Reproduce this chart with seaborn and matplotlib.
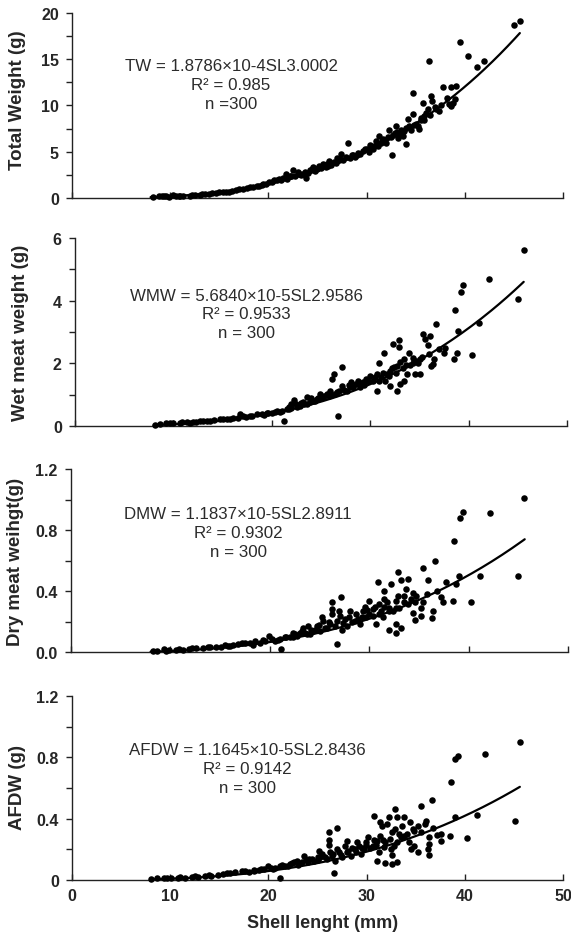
import matplotlib
matplotlib.use("Agg")
import matplotlib.pyplot as plt
import numpy as np
import pandas as pd
import seaborn as sns
from matplotlib.ticker import MultipleLocator, FixedLocator, FixedFormatter

# (shell length mm, weight g)
tw_points = [
    (45.6, 19.1), (45.0, 18.7), (39.5, 16.9), (40.3, 15.4), (36.35, 14.8), (41.2, 14.2),
    (42.0, 14.8), (37.8, 12.0), (38.6, 12.0), (39.1, 12.1), (34.7, 11.35), (36.55, 11.0),
    (36.7, 10.5), (35.7, 10.3), (38.8, 10.3), (38.6, 9.9), (39.0, 10.7), (37.1, 9.6),
    (37.4, 9.4), (36.2, 9.6), (35.85, 8.9), (34.7, 9.1), (34.2, 8.5), (34.35, 7.8),
    (35.5, 8.4), (35.2, 7.8), (35.3, 7.5), (33.0, 7.8), (32.3, 7.3), (32.7, 6.8),
    (33.4, 6.9), (33.7, 6.7), (34.0, 5.8), (32.6, 4.7), (31.3, 6.7), (31.65, 6.4),
    (32.0, 6.0), (31.0, 6.2), (30.3, 5.7), (30.65, 5.3), (30.0, 5.3), (29.6, 5.1),
    (29.1, 4.9), (28.1, 5.9), (28.6, 4.6), (27.9, 4.4), (27.4, 4.75), (27.25, 4.2),
    (26.7, 3.9), (26.2, 4.0), (25.55, 3.7), (25.2, 3.5), (24.9, 3.1), (24.5, 3.3),
    (24.2, 3.0), (23.85, 2.2), (23.5, 2.6), (23.0, 2.8), (22.5, 3.0), (22.15, 2.4),
    (21.8, 2.6), (21.5, 2.2), (21.1, 2.05), (20.6, 1.9), (20.1, 1.7), (19.45, 1.5),
    (18.8, 1.3), (18.1, 1.15), (17.4, 1.0), (16.7, 0.85), (16.0, 0.7), (15.4, 0.6),
    (14.7, 0.55), (14.0, 0.45), (13.0, 0.35), (12.0, 0.25), (11.3, 0.25), (10.6, 0.2),
    (9.6, 0.18), (8.9, 0.18), (8.2, 0.15),
    (19.0, 1.35), (19.8, 1.55), (20.4, 1.75), (21.3, 1.9), (21.9, 2.1), (22.7, 2.35),
    (23.3, 2.5), (24.0, 2.75), (24.7, 2.95), (25.4, 3.2), (25.9, 3.35), (26.4, 3.6),
    (26.9, 3.75), (27.6, 4.1), (28.3, 4.35), (28.8, 4.4), (29.3, 4.8), (29.8, 5.3),
    (30.2, 5.0), (30.8, 5.6), (31.5, 6.0), (31.8, 6.3), (32.5, 6.6), (33.2, 6.5),
    (33.8, 7.2), (34.5, 7.4), (35.0, 8.0), (17.8, 1.1), (16.3, 0.8), (15.0, 0.6),
    (13.5, 0.4), (12.5, 0.3), (11.0, 0.22), (9.9, 0.15), (10.3, 0.3), (9.2, 0.25),
    (23.2, 2.6), (24.4, 3.1), (26.0, 3.7), (27.0, 4.3), (33.5, 7.3), (34.8, 7.9),
    (31.2, 5.6), (32.9, 7.0), (35.8, 8.4), (36.0, 9.2), (37.0, 9.8), (38.2, 10.8),
    (28.5, 4.6), (29.0, 4.6), (30.5, 5.4), (31.6, 6.2), (32.2, 6.6), (33.1, 7.1),
    (34.0, 7.6), (35.5, 8.6), (36.5, 9.0), (37.6, 10.1), (38.4, 10.2), (26.1, 3.5),
    (25.0, 3.2), (23.7, 2.8), (22.3, 2.4), (20.9, 2.0), (19.3, 1.4), (18.4, 1.2),
    (17.0, 0.95), (15.7, 0.7), (14.3, 0.5), (13.2, 0.4), (12.2, 0.3), (10.9, 0.25),
    (9.4, 0.2),
]

wmw_points = [
    (45.6, 5.63), (42.1, 4.68), (39.4, 4.5), (39.2, 4.28), (45.0, 4.05), (38.6, 3.69),
    (41.1, 3.3), (38.9, 3.03), (36.7, 3.25), (35.4, 2.93), (35.6, 2.79), (36.1, 2.86),
    (35.9, 2.58), (32.3, 2.63), (32.9, 2.74), (32.9, 2.53), (31.4, 2.33), (30.85, 2.0),
    (37.6, 2.5), (37.5, 2.33), (38.8, 2.33), (38.5, 2.14), (40.3, 2.27), (36.5, 2.14),
    (36.35, 1.97), (36.2, 1.9), (33.9, 2.33), (34.4, 2.18), (34.7, 2.08), (35.1, 2.13),
    (33.4, 2.13), (33.05, 2.03), (32.7, 1.92), (32.4, 1.87), (32.0, 1.76), (31.7, 1.65),
    (31.5, 1.44), (32.0, 1.28), (32.7, 1.12), (33.05, 1.33), (33.4, 1.44), (34.6, 1.65),
    (35.1, 1.65), (33.7, 1.65), (30.7, 1.65), (30.85, 1.44), (30.7, 1.12), (30.0, 1.6),
    (29.8, 1.44), (29.3, 1.39), (29.0, 1.23), (28.6, 1.33), (28.1, 1.39), (27.97, 1.23),
    (27.6, 1.12), (27.1, 1.87), (26.3, 1.65), (26.1, 1.49), (27.1, 1.28), (26.8, 1.12),
    (26.4, 1.01), (25.9, 1.12), (25.6, 1.01), (25.25, 0.91), (24.9, 1.01), (24.6, 0.85),
    (24.2, 0.8), (23.9, 0.75), (23.6, 0.91), (23.6, 0.69), (23.2, 0.75), (22.9, 0.64),
    (22.5, 0.69), (22.3, 0.83), (22.0, 0.59), (21.5, 0.53), (21.0, 0.48), (21.2, 0.16),
    (20.5, 0.48), (20.0, 0.43), (19.5, 0.43), (19.0, 0.37), (18.5, 0.37), (17.8, 0.32),
    (17.1, 0.32), (16.6, 0.27), (16.8, 0.37), (16.1, 0.25), (15.4, 0.21), (14.7, 0.21),
    (14.1, 0.18), (13.4, 0.16), (12.7, 0.16), (12.0, 0.13), (11.4, 0.13), (10.7, 0.11),
    (10.0, 0.09), (9.3, 0.11), (8.6, 0.05), (8.1, 0.03), (26.7, 0.32),
    (18.0, 0.33), (19.2, 0.36), (20.8, 0.45), (21.7, 0.55), (22.6, 0.6), (23.3, 0.7),
    (24.4, 0.8), (25.0, 0.9), (25.8, 0.95), (26.6, 1.1), (27.3, 1.15), (28.3, 1.25),
    (29.0, 1.35), (29.6, 1.5), (30.3, 1.45), (31.1, 1.55), (31.9, 1.6), (32.6, 1.7),
    (33.3, 1.85), (34.0, 1.95), (34.9, 2.0), (27.8, 1.3), (24.0, 0.88), (22.0, 0.7),
    (15.8, 0.23), (13.0, 0.15), (11.7, 0.1),
    (28.8, 1.45), (29.4, 1.3), (30.5, 1.55), (31.3, 1.7), (32.2, 1.85), (33.6, 1.95),
    (34.3, 2.0), (35.3, 2.2), (36.0, 2.3), (37.0, 2.45), (26.0, 1.0), (25.3, 0.95),
    (24.7, 0.9), (23.0, 0.73), (21.8, 0.6), (20.3, 0.45), (19.6, 0.4), (17.4, 0.3),
    (15.0, 0.22), (13.7, 0.17), (12.3, 0.14), (10.9, 0.12), (9.7, 0.09),
]

dmw_points = [
    (45.5, 1.013), (42.1, 0.91), (39.4, 0.92), (39.1, 0.88), (38.5, 0.73), (44.9, 0.50),
    (36.6, 0.595), (35.4, 0.555), (32.9, 0.527), (30.9, 0.46), (32.2, 0.45), (33.2, 0.475),
    (33.9, 0.48), (35.9, 0.473), (37.7, 0.46), (38.7, 0.447), (39.0, 0.50), (41.1, 0.50),
    (40.2, 0.33), (38.4, 0.338), (37.4, 0.327), (37.2, 0.36), (36.4, 0.27), (36.3, 0.224),
    (35.4, 0.327), (35.2, 0.294), (35.2, 0.24), (34.6, 0.21), (34.4, 0.26), (34.7, 0.37),
    (34.4, 0.39), (33.7, 0.414), (33.5, 0.37), (32.9, 0.37), (32.7, 0.338), (32.7, 0.294),
    (32.4, 0.27), (32.0, 0.294), (31.5, 0.40), (31.5, 0.35), (31.0, 0.316), (31.0, 0.25),
    (31.4, 0.23), (32.7, 0.185), (33.2, 0.163), (32.0, 0.146), (32.7, 0.13), (30.4, 0.283),
    (30.0, 0.338), (30.0, 0.25), (30.7, 0.185), (29.3, 0.27), (29.2, 0.23), (29.0, 0.185),
    (28.5, 0.207), (28.0, 0.27), (27.9, 0.23), (27.7, 0.174), (27.1, 0.36), (26.2, 0.327),
    (26.2, 0.283), (26.2, 0.25), (26.7, 0.207), (27.2, 0.15), (26.0, 0.185), (25.7, 0.163),
    (25.3, 0.207), (25.2, 0.23), (25.0, 0.14), (24.7, 0.174), (24.3, 0.14), (23.8, 0.17),
    (23.3, 0.163), (23.7, 0.12), (23.0, 0.13), (22.7, 0.11), (22.3, 0.13), (22.0, 0.098),
    (21.5, 0.098), (21.1, 0.022), (21.0, 0.087), (20.5, 0.076), (19.9, 0.105), (19.5, 0.076),
    (19.0, 0.065), (18.5, 0.072), (18.0, 0.059), (17.5, 0.065), (16.8, 0.054), (16.3, 0.05),
    (15.8, 0.044), (15.1, 0.037), (14.6, 0.033), (14.0, 0.033), (13.3, 0.026), (12.6, 0.026),
    (11.9, 0.022), (11.3, 0.017), (10.6, 0.015), (9.9, 0.015), (9.3, 0.022), (8.6, 0.011),
    (8.2, 0.007), (26.7, 0.054),
    (23.5, 0.13), (24.5, 0.15), (25.5, 0.16), (26.5, 0.17), (27.3, 0.19), (28.2, 0.2),
    (28.8, 0.22), (29.6, 0.23), (30.4, 0.24), (31.2, 0.27), (32.0, 0.27), (33.0, 0.29),
    (33.9, 0.32), (34.6, 0.33), (20.8, 0.08), (22.3, 0.1), (18.3, 0.05), (16.0, 0.04),
    (24.0, 0.12), (27.0, 0.24), (29.5, 0.3), (31.5, 0.3),
    (28.6, 0.25), (29.8, 0.28), (30.6, 0.3), (31.8, 0.33), (33.5, 0.33), (34.2, 0.35),
    (35.8, 0.38), (36.8, 0.4), (27.5, 0.22), (26.9, 0.27), (25.9, 0.2), (24.9, 0.18),
    (24.1, 0.15), (23.2, 0.14), (22.5, 0.12), (21.6, 0.1), (20.2, 0.09), (19.3, 0.08),
    (17.2, 0.06), (15.5, 0.05), (13.8, 0.035), (12.2, 0.03), (10.9, 0.02), (9.5, 0.01),
]

afdw_points = [
    (45.6, 0.90), (42.1, 0.82), (39.3, 0.81), (39.0, 0.79), (38.6, 0.64), (45.1, 0.387),
    (36.7, 0.52), (35.5, 0.485), (32.9, 0.463), (30.75, 0.42), (27.0, 0.34), (26.2, 0.31),
    (26.2, 0.263), (26.2, 0.228), (28.0, 0.252), (26.65, 0.046), (21.2, 0.015), (41.2, 0.426),
    (40.2, 0.276), (39.0, 0.413), (38.5, 0.287), (37.6, 0.30), (37.6, 0.256), (37.2, 0.296),
    (36.4, 0.278), (36.4, 0.235), (36.2, 0.202), (36.4, 0.163), (35.9, 0.365), (36.0, 0.387),
    (35.2, 0.35), (34.7, 0.333), (33.8, 0.41), (33.1, 0.41), (32.3, 0.41), (32.1, 0.365),
    (31.4, 0.376), (31.6, 0.354), (32.6, 0.31), (33.8, 0.29), (34.3, 0.245), (34.8, 0.224),
    (35.2, 0.18), (34.5, 0.202), (33.5, 0.278), (33.1, 0.245), (32.8, 0.224), (32.5, 0.202),
    (32.6, 0.165), (33.1, 0.12), (32.6, 0.104), (31.9, 0.11), (31.1, 0.126), (31.9, 0.245),
    (31.8, 0.213), (31.3, 0.18), (31.1, 0.256), (30.6, 0.224), (30.1, 0.278), (29.9, 0.245),
    (29.7, 0.202), (29.2, 0.224), (29.4, 0.17), (28.9, 0.18), (28.4, 0.159), (28.0, 0.18),
    (27.5, 0.148), (27.2, 0.18), (26.8, 0.126), (26.5, 0.159), (26.0, 0.137), (25.5, 0.17),
    (25.1, 0.19), (25.0, 0.148), (24.6, 0.126), (24.1, 0.137), (23.6, 0.159), (23.4, 0.115),
    (22.9, 0.126), (22.6, 0.115), (22.2, 0.104), (21.7, 0.093), (21.2, 0.089), (20.7, 0.078),
    (20.0, 0.093), (19.5, 0.072), (19.0, 0.065), (18.5, 0.065), (18.0, 0.054), (17.3, 0.061),
    (16.6, 0.05), (16.1, 0.046), (15.4, 0.039), (14.9, 0.033), (14.2, 0.028), (13.5, 0.024),
    (12.8, 0.022), (12.2, 0.017), (11.5, 0.013), (10.8, 0.013), (10.1, 0.013), (9.4, 0.011),
    (8.7, 0.011), (8.05, 0.007),
    (23.0, 0.1), (24.0, 0.12), (25.0, 0.13), (25.8, 0.15), (26.6, 0.17), (27.4, 0.16),
    (28.1, 0.19), (28.8, 0.2), (29.5, 0.21), (30.3, 0.21), (31.0, 0.23), (31.7, 0.26),
    (32.4, 0.27), (33.3, 0.3), (34.1, 0.3), (34.8, 0.32), (20.5, 0.07), (22.0, 0.09),
    (18.5, 0.06), (27.0, 0.2), (29.0, 0.25),
    (27.8, 0.22), (28.5, 0.21), (29.9, 0.23), (30.8, 0.26), (31.4, 0.29), (32.9, 0.33),
    (33.6, 0.35), (34.4, 0.38), (35.5, 0.31), (36.8, 0.34), (26.3, 0.18), (25.3, 0.15),
    (24.4, 0.14), (23.8, 0.13), (22.4, 0.11), (21.4, 0.1), (20.3, 0.08), (19.2, 0.07),
    (17.6, 0.06), (15.8, 0.045), (13.9, 0.03), (12.5, 0.025), (11.0, 0.02), (9.7, 0.015),
]

# power fits as printed on the chart: W = a * SL^b
fit_a = [1.8786e-4, 5.6840e-5, 1.1837e-5, 1.1645e-5]
fit_b = [3.0002, 2.9586, 2.8911, 2.8436]
fit_r2 = ["0.985", "0.9533", "0.9302", "0.9142"]
fit_names = ["TW", "WMW", "DMW", "AFDW"]
n_labels = ["n =300", "n = 300", "n = 300", "n = 300"]
fit_coef_text = ["1.8786\u00d710-4", "5.6840\u00d710-5", "1.1837\u00d710-5", "1.1645\u00d710-5"]

y_labels = ["Total Weight (g)", "Wet meat weight (g)", "Dry meat weihgt(g)", "AFDW (g)"]
y_ticks = [[0, 5, 10, 15, 20], [0, 2, 4, 6], [0, 0.4, 0.8, 1.2], [0, 0.4, 0.8, 1.2]]
y_ticklabels = [["0", "5", "10", "15", "20"], ["0", "2", "4", "6"],
                ["0.0", "0.4", "0.8", "1.2"], ["0", "0.4", "0.8", "1.2"]]
x_ticks = [0, 10, 20, 30, 40, 50]

sns.set_style("ticks")
plt.rcParams["font.family"] = ["Liberation Sans", "DejaVu Sans"]

fig = plt.figure(figsize=(5.71, 9.37), dpi=100)
rects = [
    (0.1261, 0.7876, 0.8600, 0.1975),
    (0.1313, 0.5443, 0.8617, 0.2006),
    (0.1243, 0.3026, 0.8713, 0.1958),
    (0.1261, 0.0598, 0.8600, 0.1963),
]
text_pos = [(16.2, 15.1), (17.4, 4.42), (16.8, 0.955), (17.9, 0.90)]
label_y = [0.535, 0.5, 0.5, 0.51]

all_points = [tw_points, wmw_points, dmw_points, afdw_points]
sl_fit = np.linspace(8.0, 45.6, 150)

for i, pts in enumerate(all_points):
    ax = fig.add_axes(rects[i])
    df = pd.DataFrame(pts, columns=["sl", "w"])
    sns.scatterplot(data=df, x="sl", y="w", ax=ax, color="black", s=22,
                    linewidth=0, clip_on=False, zorder=3)
    sns.lineplot(x=sl_fit, y=fit_a[i] * sl_fit ** fit_b[i], ax=ax,
                 color="black", linewidth=1.6, zorder=4)

    ax.set_xlim(0, 50)
    ax.set_ylim(0, y_ticks[i][-1])
    for side in ["top", "right"]:
        ax.spines[side].set_visible(False)
    for side in ["left", "bottom"]:
        ax.spines[side].set_color("#222222")
        ax.spines[side].set_linewidth(1.0)

    ax.yaxis.set_major_locator(FixedLocator(y_ticks[i]))
    ax.yaxis.set_major_formatter(FixedFormatter(y_ticklabels[i]))
    ax.yaxis.set_minor_locator(MultipleLocator(y_ticks[i][1] / 2))
    ax.xaxis.set_major_locator(FixedLocator(x_ticks))
    ax.tick_params(axis="y", which="both", direction="out", length=4.5, width=1,
                   color="#222222", pad=5, labelsize=11.5)
    ax.tick_params(axis="x", which="both", direction="in", length=4.5, width=1,
                   color="#222222", pad=6, labelsize=11.5)
    for lab in ax.get_yticklabels() + ax.get_xticklabels():
        lab.set_fontweight("bold")

    if i < 3:
        ax.tick_params(axis="x", labelbottom=False)
        ax.set_xlabel("")
    else:
        ax.set_xlabel("Shell lenght (mm)", fontsize=13, fontweight="bold")
        ax.xaxis.set_label_coords(0.51, -0.185)

    ax.set_ylabel(y_labels[i], fontsize=13.5, fontweight="bold")
    ax.yaxis.set_label_coords(-0.094, label_y[i])

    txt = (f"{fit_names[i]} = {fit_coef_text[i]}SL{fit_b[i]:.4f}\n"
           f"R\u00b2 = {fit_r2[i]}\n{n_labels[i]}")
    ax.text(text_pos[i][0], text_pos[i][1], txt, ha="center", va="top",
            multialignment="center", fontsize=12.2, color="#2b2b2b", linespacing=1.32)

fig.savefig("out.png", dpi=100)
